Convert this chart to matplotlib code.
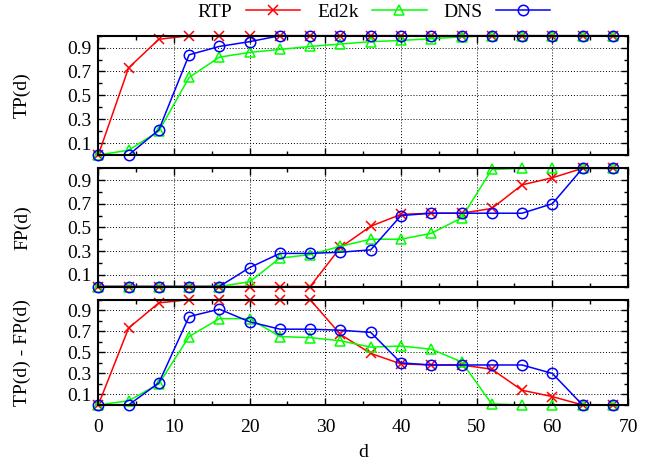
import matplotlib
matplotlib.use("Agg")
import matplotlib.pyplot as plt
from matplotlib.ticker import MultipleLocator, FixedLocator

plt.rcParams['font.family'] = ['Liberation Serif', 'DejaVu Serif']

d = [0, 4, 8, 12, 16, 20, 24, 28, 32, 36, 40, 44, 48, 52, 56, 60, 64, 68]

tp_rtp = [0.0, 0.73, 0.97, 1.0, 1.0, 1.0, 1.0, 1.0, 1.0, 1.0, 1.0, 1.0, 1.0, 1.0, 1.0, 1.0, 1.0, 1.0]
tp_ed2k = [0.0, 0.04, 0.20, 0.65, 0.82, 0.86, 0.885, 0.91, 0.93, 0.95, 0.96, 0.975, 0.99, 1.0, 1.0, 1.0, 1.0, 1.0]
tp_dns = [0.0, 0.0, 0.21, 0.84, 0.91, 0.95, 1.0, 1.0, 1.0, 1.0, 1.0, 1.0, 1.0, 1.0, 1.0, 1.0, 1.0, 1.0]

fp_rtp = [0.0, 0.0, 0.0, 0.0, 0.0, 0.0, 0.0, 0.0, 0.33, 0.51, 0.61, 0.62, 0.62, 0.66, 0.86, 0.92, 1.0, 1.0]
fp_ed2k = [0.0, 0.0, 0.0, 0.0, 0.0, 0.04, 0.24, 0.27, 0.34, 0.40, 0.40, 0.45, 0.58, 0.99, 1.0, 1.0, 1.0, 1.0]
fp_dns = [0.0, 0.0, 0.0, 0.0, 0.0, 0.16, 0.28, 0.28, 0.29, 0.31, 0.60, 0.62, 0.62, 0.62, 0.62, 0.70, 1.0, 1.0]

diff_rtp = [0.0, 0.73, 0.97, 1.0, 1.0, 1.0, 1.0, 1.0, 0.67, 0.49, 0.39, 0.38, 0.38, 0.34, 0.14, 0.08, 0.0, 0.0]
diff_ed2k = [0.0, 0.04, 0.20, 0.65, 0.82, 0.82, 0.65, 0.64, 0.61, 0.55, 0.56, 0.53, 0.41, 0.01, 0.0, 0.0, 0.0, 0.0]
diff_dns = [0.0, 0.0, 0.21, 0.84, 0.91, 0.79, 0.72, 0.72, 0.71, 0.69, 0.40, 0.38, 0.38, 0.38, 0.38, 0.30, 0.0, 0.0]

series_names = ["RTP", "Ed2k", "DNS"]
panel_labels = ["TP(d)", "FP(d)", "TP(d) - FP(d)"]
y_ticks = [0.1, 0.3, 0.5, 0.7, 0.9]
x_ticks = [0, 10, 20, 30, 40, 50, 60, 70]

panels = [
    [tp_rtp, tp_ed2k, tp_dns],
    [fp_rtp, fp_ed2k, fp_dns],
    [diff_rtp, diff_ed2k, diff_dns],
]

styles = [
    dict(color="#ff0000", marker="x", markersize=7, markeredgewidth=1.1),
    dict(color="#00ff00", marker="^", markersize=7, markerfacecolor="none", markeredgewidth=1.1),
    dict(color="#0000ff", marker="o", markersize=7.5, markerfacecolor="none", markeredgewidth=1.1),
]

W, H = 662, 466
fig = plt.figure(figsize=(W / 100, H / 100), dpi=100)

left = 98.3 / W
width = (628.0 - 98.3) / W
boxes = [(35.7, 155.0), (168.3, 286.5), (299.7, 405.0)]

for i, (top, bot) in enumerate(boxes):
    ax = fig.add_axes([left, 1 - bot / H, width, (bot - top) / H])
    lines = []
    for vals, name, st in zip(panels[i], series_names, styles):
        ln, = ax.plot(d, vals, linewidth=1.1, label=name, clip_on=False, **st)
        lines.append(ln)
    ax.set_xlim(0, 70)
    ax.set_ylim(0, 1)
    ax.yaxis.set_major_locator(FixedLocator(y_ticks))
    ax.yaxis.set_minor_locator(MultipleLocator(0.1))
    ax.xaxis.set_major_locator(FixedLocator(x_ticks))
    ax.xaxis.set_minor_locator(MultipleLocator(5))
    ax.tick_params(which="both", direction="in", top=True, right=True, width=1.0)
    ax.tick_params(which="major", length=5, labelsize=14)
    ax.tick_params(which="minor", length=3)
    ax.tick_params(axis="y", pad=5)
    ax.grid(True, which="major", linestyle=(0, (1, 2)), color="black", linewidth=0.7)
    for sp in ax.spines.values():
        sp.set_linewidth(1.5)
    ax.set_ylabel(panel_labels[i], fontsize=14)
    ax.yaxis.set_label_coords(-0.127, 0.5)
    if i < 2:
        ax.tick_params(labelbottom=False)
    else:
        ax.set_xlabel("d", fontsize=14, labelpad=6)
        ax.tick_params(axis="x", pad=10)
    if i == 0:
        handles = lines

fig.legend(handles, series_names, loc="center", bbox_to_anchor=(374 / W, 1 - 12 / H),
           ncol=3, frameon=False, markerfirst=False, fontsize=14,
           handlelength=2.8, handletextpad=0.7, columnspacing=0.85, borderpad=0)

fig.savefig("out.png", dpi=100)
